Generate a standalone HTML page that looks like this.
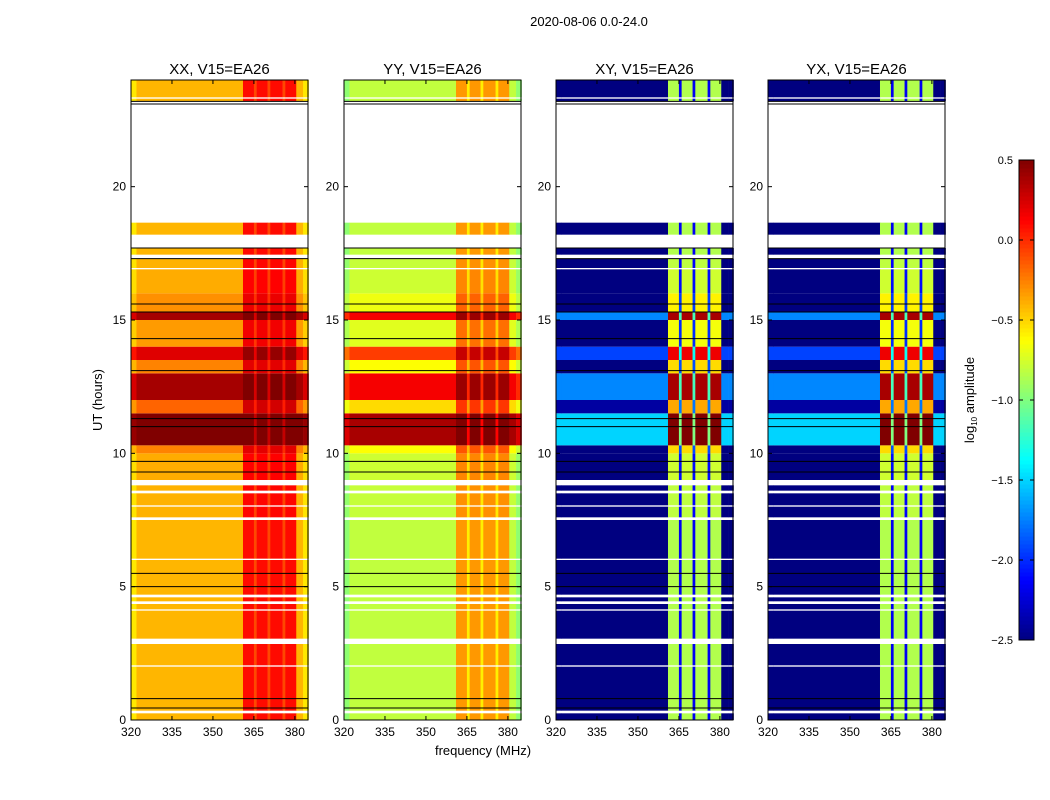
<!DOCTYPE html>
<html><head><meta charset="utf-8"><style>
body{margin:0;background:#fff;}
svg{display:block;font-family:"Liberation Sans","DejaVu Sans",sans-serif;}
</style></head><body>
<svg id="fig" width="1050" height="800" viewBox="0 0 1050 800">
<text x="589" y="26" font-size="13" text-anchor="middle">2020-08-06 0.0-24.0</text>
<text x="483" y="755" font-size="13" text-anchor="middle">frequency (MHz)</text>
<text x="102" y="400" font-size="13" text-anchor="middle" transform="rotate(-90 102 400)">UT (hours)</text>
<g id="panels"></g>
<g id="cbar"></g>
<text x="974" y="400" font-size="13" text-anchor="middle" transform="rotate(-90 974 400)">log<tspan font-size="8" dy="3">10</tspan><tspan dy="-3"> amplitude</tspan></text>
</svg>
<script>
// ---- data ----
const panelNames=["XX, V15=EA26","YY, V15=EA26","XY, V15=EA26","YX, V15=EA26"];
const offBand=[-0.42,-0.82,-2.7,-2.7];
const inBand=[0.08,-0.35,-0.9,-0.9];
const hiOff=[1.0,1.2,1.2,1.2];
const hiIn=[0.5,0.9,1.5,1.5];
const stripeLevel=[-0.1,-0.6,-2.2,-2.2];
// frequency bins (MHz edges) and channel type: 0 off-band,1 band,2 stripe,3 edge
const freqEdges=[320,322,361,365,366,370,371,375.5,376.5,380.5,383,385];
const freqType=[3,0,1,2,1,2,1,2,1,0,3];
// time segments (hours) with activity level
const segStart=[0,0.35,2.05,3.05,4.15,4.45,4.7,6.05,7.6,8.05,8.6,9.0,10.0,10.3,11.5,12.0,13.0,13.5,14.0,15.0,15.3,16.0,16.95,17.45,18.2,23.2,23.35];
const segEnd=[0.25,2.0,2.85,4.1,4.35,4.6,6.0,7.5,8.0,8.5,8.8,10.0,10.3,11.5,12.0,13.0,13.5,14.0,15.0,15.3,16.0,16.9,17.3,17.7,18.65,23.3,24];
const segLevel=[0.1,0.1,0.1,0.1,0.1,0.1,0.1,0.1,0.15,0.15,0.15,0.2,0.4,1.0,0.5,0.9,0.4,0.8,0.3,0.9,0.35,0.2,0.15,0.1,0.1,0.1,0.1];
const blackLines=[0.45,0.8,5.0,5.5,9.3,9.7,11.0,11.3,13.1,14.3,15.3,15.6,17.3,17.7,23.1,23.2];
const xTicks=[320,335,350,365,380];
const yTicks=[0,5,10,15,20];
const cbTicks=[0.5,0.0,-0.5,-1.0,-1.5,-2.0,-2.5];
const cbLabels=["0.5","0.0","\u22120.5","\u22121.0","\u22121.5","\u22122.0","\u22122.5"];
// ---- layout ----
const panelLeft=[131,344,556,768], PW=177, PT=80, PB=720;
const fMin=320,fMax=384.8,tMin=0,tMax=24,vMin=-2.5,vMax=0.5;
const NS="http://www.w3.org/2000/svg";
function el(t,a,p){const e=document.createElementNS(NS,t);for(const k in a)e.setAttribute(k,a[k]);p.appendChild(e);return e;}
function jet(v){let t=(v-vMin)/(vMax-vMin);t=Math.max(0,Math.min(1,t));
 const r=Math.max(0,Math.min(1,1.5-Math.abs(4*t-3))),g=Math.max(0,Math.min(1,1.5-Math.abs(4*t-2))),b=Math.max(0,Math.min(1,1.5-Math.abs(4*t-1)));
 return `rgb(${Math.round(r*255)},${Math.round(g*255)},${Math.round(b*255)})`;}
const yS=t=>PB-(t-tMin)/(tMax-tMin)*(PB-PT);
const panelsG=document.getElementById('panels');
panelNames.forEach((nm,p)=>{
 const L=panelLeft[p];
 const xS=f=>L+(f-fMin)/(fMax-fMin)*PW;
 const g=el('g',{},panelsG);
 
 
 for(let s=0;s<segStart.length;s++){
  for(let c=0;c<freqType.length;c++){
   const ty=freqType[c],h=segLevel[s];let v;
   const ho=h*h, hi=Math.pow(h,1.5);
   if(ty===1)v=inBand[p]+hi*hiIn[p];
   else if(ty===2)v=stripeLevel[p]+hi*hiIn[p]*0.8;
   else if(ty===3)v=offBand[p]-(p<2?0.15:0)+ho*hiOff[p];
   else v=offBand[p]+ho*hiOff[p];
   v=Math.min(v,vMax);
   const x0=xS(freqEdges[c]),x1=xS(freqEdges[c+1]),y0=yS(segEnd[s]),y1=yS(segStart[s]);
   const r=el('rect',{x:x0,y:y0,width:x1-x0+0.3,height:y1-y0,fill:jet(v)},g);
   
   
  }
 }
 blackLines.forEach(t=>{const l=el('line',{x1:L,x2:L+PW,y1:yS(t),y2:yS(t),stroke:'#000','stroke-width':1},g);
  
  });
 const fr=el('rect',{x:L,y:PT,width:PW,height:PB-PT,fill:'none',stroke:'#000','stroke-width':1},g);
 
 
 const tt=el('text',{x:L+PW/2,y:74,'font-size':15,'text-anchor':'middle'},g);tt.textContent=nm;
 
 
 xTicks.forEach(f=>{const x=xS(f);
  el('line',{x1:x,x2:x,y1:PB,y2:PB-4,stroke:'#000'},g);el('line',{x1:x,x2:x,y1:PT,y2:PT+4,stroke:'#000'},g);
  const t=el('text',{x:x,y:736,'font-size':12,'text-anchor':'middle'},g);t.textContent=f;
  
  });
 yTicks.forEach(v=>{const y=yS(v);
  el('line',{x1:L,x2:L+4,y1:y,y2:y,stroke:'#000'},g);el('line',{x1:L+PW,x2:L+PW-4,y1:y,y2:y,stroke:'#000'},g);
  const t=el('text',{x:L-5,y:y+4,'font-size':12,'text-anchor':'end'},g);t.textContent=v;
  
  });
});
// colorbar
const cb=document.getElementById('cbar');const CX=1019,CW=15,CT=160,CB=640;
const cy=v=>CB-(v-vMin)/(vMax-vMin)*(CB-CT);
for(let i=0;i<120;i++){const v0=vMin+i*(vMax-vMin)/120,v1=v0+(vMax-vMin)/120;
 const r=el('rect',{x:CX,y:cy(v1),width:CW,height:cy(v0)-cy(v1)+0.5,fill:jet((v0+v1)/2)},cb);
 
 }
el('rect',{x:CX,y:CT,width:CW,height:CB-CT,fill:'none',stroke:'#000'},cb);
cbTicks.forEach((v,i)=>{const y=cy(v);
 el('line',{x1:CX,x2:CX+4,y1:y,y2:y,stroke:'#000'},cb);el('line',{x1:CX+CW,x2:CX+CW-4,y1:y,y2:y,stroke:'#000'},cb);
 const t=el('text',{x:1013,y:y+4,'font-size':11,'text-anchor':'end'},cb);t.textContent=cbLabels[i];
 
 });
</script>
</body></html>
